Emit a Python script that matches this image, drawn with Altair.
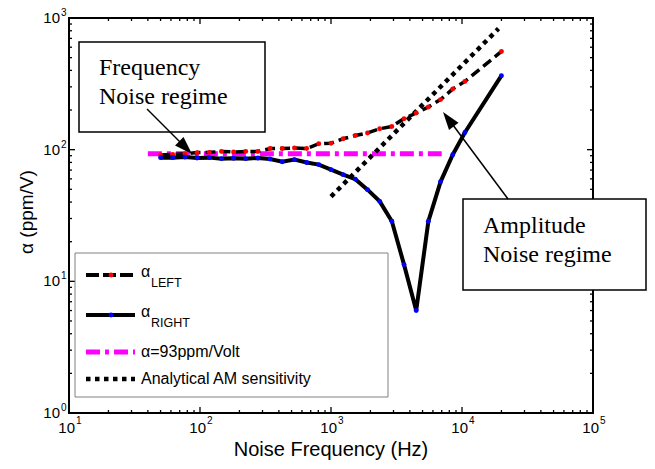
import altair as alt
import pandas as pd

# ---------------- data ----------------
freq = [50, 61.9, 76.7, 95.0, 117.7, 145.8, 180.4, 223.5, 276.8, 342.8, 424.6, 526,
        651.6, 807, 1000, 1238, 1534, 1900, 2353, 2914, 3610, 4471, 5538, 6859,
        8496, 10523, 20000]
alpha_left = [91, 92, 93, 95, 95.4, 97, 96, 97, 97, 102, 102, 103, 102, 111, 112,
              121, 128, 134, 144, 150, 172, 190, 211, 240, 289, 330, 557]
alpha_right = [87, 87, 88, 86.5, 87, 85.5, 86, 85.5, 86.5, 85, 81, 84, 80, 77, 70.5,
               64.6, 59.7, 49.7, 40.5, 28.6, 13.4, 6.0, 28.6, 57, 91.6, 135, 365]
flat_freq = [40, 7000]
flat_alpha = [93, 93]
am_freq = [1000, 19000]
am_alpha = [44, 830]

x_major = [10, 100, 1000, 10000, 100000]
x_major_exp = ["1", "2", "3", "4", "5"]
y_major = [1, 10, 100, 1000]
y_major_exp = ["0", "1", "2", "3"]
x_minor = [m * 10 ** k for k in range(1, 5) for m in range(2, 10)]
y_minor = [m * 10 ** k for k in range(0, 3) for m in range(2, 10)]

W, H = 524, 395
SANS = "Liberation Sans"
SERIF = "Liberation Serif"

xs = alt.Scale(type="log", domain=[10, 100000], nice=False)
ys = alt.Scale(type="log", domain=[1, 1000], nice=False)
X = lambda f: alt.X(f, scale=xs, axis=None)
Y = lambda f: alt.Y(f, scale=ys, axis=None)

one = pd.DataFrame({"d": [0]})
left_df = pd.DataFrame({"f": freq, "a": alpha_left})
right_df = pd.DataFrame({"f": freq, "a": alpha_right})
flat_df = pd.DataFrame({"f": flat_freq, "a": flat_alpha})
am_df = pd.DataFrame({"f": am_freq, "a": am_alpha})
xmaj_df = pd.DataFrame({"v": x_major, "e": x_major_exp})
ymaj_df = pd.DataFrame({"v": y_major, "e": y_major_exp})
xmin_df = pd.DataFrame({"v": x_minor})
ymin_df = pd.DataFrame({"v": y_minor})

layers = []

# ---------------- ticks (inward, all four sides) ----------------
for df, ln in ((xmaj_df, 6), (xmin_df, 3)):
    layers.append(alt.Chart(df).mark_rule(color="black", strokeWidth=1.3).encode(
        x=X("v:Q"), y=alt.value(H), y2=alt.value(H - ln)))
    layers.append(alt.Chart(df).mark_rule(color="black", strokeWidth=1.3).encode(
        x=X("v:Q"), y=alt.value(0), y2=alt.value(ln)))
for df, ln in ((ymaj_df, 6), (ymin_df, 3)):
    layers.append(alt.Chart(df).mark_rule(color="black", strokeWidth=1.3).encode(
        y=Y("v:Q"), x=alt.value(0), x2=alt.value(ln)))
    layers.append(alt.Chart(df).mark_rule(color="black", strokeWidth=1.3).encode(
        y=Y("v:Q"), x=alt.value(W), x2=alt.value(W - ln)))

# ---------------- tick labels ----------------
layers.append(alt.Chart(xmaj_df).mark_text(text="10", font=SANS, fontSize=15, align="right",
                                           baseline="alphabetic", dx=6, color="black").encode(
    x=X("v:Q"), y=alt.value(H + 20)))
layers.append(alt.Chart(xmaj_df).mark_text(font=SANS, fontSize=10, align="left",
                                           baseline="alphabetic", dx=7, color="black").encode(
    x=X("v:Q"), y=alt.value(H + 11), text="e:N"))
layers.append(alt.Chart(ymaj_df).mark_text(text="10", font=SANS, fontSize=15, align="right",
                                           baseline="middle", color="black").encode(
    y=Y("v:Q"), x=alt.value(-9)))
layers.append(alt.Chart(ymaj_df).mark_text(font=SANS, fontSize=10, align="left",
                                           baseline="middle", dy=-5, color="black").encode(
    y=Y("v:Q"), x=alt.value(-8), text="e:N"))


def txt(s, x, y, size, font=SANS, align="left", baseline="alphabetic", angle=0, color="black"):
    kw = dict(text=s, font=font, fontSize=size, align=align, baseline=baseline, color=color)
    if angle:
        kw["angle"] = angle
    return alt.Chart(one).mark_text(**kw).encode(x=alt.value(x), y=alt.value(y))


def rule(x1, y1, x2, y2, color="black", width=1.0, dash=None, cap="butt"):
    kw = dict(color=color, strokeWidth=width, strokeCap=cap)
    if dash:
        kw["strokeDash"] = dash
    return alt.Chart(one).mark_rule(**kw).encode(
        x=alt.value(x1), y=alt.value(y1), x2=alt.value(x2), y2=alt.value(y2))


def box(x1, y1, x2, y2, stroke="black", width=1.5):
    return alt.Chart(one).mark_rect(fill="white", stroke=stroke, strokeWidth=width).encode(
        x=alt.value(x1), y=alt.value(y1), x2=alt.value(x2), y2=alt.value(y2))


def dot(x, y, color):
    return alt.Chart(one).mark_circle(color=color, size=24, opacity=1).encode(
        x=alt.value(x), y=alt.value(y))


ARROW = "M0,0 L-0.33,1 L0.33,1 Z"


def head(x, y, angle):
    return alt.Chart(one).mark_point(shape=ARROW, filled=True, color="black", size=1296,
                                     angle=angle, opacity=1).encode(x=alt.value(x), y=alt.value(y))


# axis titles
layers.append(txt("Noise Frequency (Hz)", W / 2, H + 43, 20, align="center"))
layers.append(txt("\u03b1 (ppm/V)", -42, 194, 19, align="center", baseline="middle", angle=270))

# ---------------- data series ----------------
layers.append(alt.Chart(flat_df).mark_line(color="#ff00ff", strokeWidth=5,
                                           strokeDash=[14, 5, 4, 5]).encode(x=X("f:Q"), y=Y("a:Q")))
layers.append(alt.Chart(am_df).mark_line(color="black", strokeWidth=4.5,
                                         strokeDash=[4.5, 4.5]).encode(x=X("f:Q"), y=Y("a:Q")))
layers.append(alt.Chart(left_df).mark_line(color="black", strokeWidth=3.5,
                                           strokeDash=[10, 5]).encode(x=X("f:Q"), y=Y("a:Q")))
layers.append(alt.Chart(left_df).mark_circle(color="red", size=24, opacity=1).encode(
    x=X("f:Q"), y=Y("a:Q")))
layers.append(alt.Chart(right_df).mark_line(color="black", strokeWidth=4).encode(
    x=X("f:Q"), y=Y("a:Q")))
layers.append(alt.Chart(right_df).mark_circle(color="blue", size=24, opacity=1).encode(
    x=X("f:Q"), y=Y("a:Q")))

# ---------------- legend ----------------
layers.append(box(6, 235, 319, 379, stroke="#808080", width=1))
layers.append(rule(17, 257, 66, 257, width=4, dash=[13, 4]))
layers.append(dot(42, 257, "red"))
layers.append(txt("\u03b1", 72, 259, 16))
layers.append(txt("LEFT", 82, 269, 12.5))
layers.append(rule(17, 297, 66, 297, width=4))
layers.append(dot(42, 297, "blue"))
layers.append(txt("\u03b1", 72, 299, 16))
layers.append(txt("RIGHT", 82, 309, 12.5))
layers.append(rule(17, 334, 66, 334, color="#ff00ff", width=5, dash=[14, 5, 4, 5]))
layers.append(txt("\u03b1=93ppm/Volt", 72, 339, 16))
layers.append(rule(17, 361, 66, 361, width=4.5, dash=[4.5, 4.5]))
layers.append(txt("Analytical AM sensitivity", 72, 366, 16))

# ---------------- annotations ----------------
layers.append(box(10, 24, 196, 114))
layers.append(txt("Frequency", 30, 57, 24, font=SERIF))
layers.append(txt("Noise regime", 30, 86, 24, font=SERIF))
layers.append(rule(78, 91, 118, 131, width=1.5))
layers.append(head(123, 136, 135))

layers.append(box(394, 181, 577, 272))
layers.append(txt("Amplitude", 414, 215, 24, font=SERIF))
layers.append(txt("Noise regime", 414, 244, 24, font=SERIF))
layers.append(rule(439, 181, 378, 99, width=1.5))
layers.append(head(374, 94, 323.2))

chart = alt.layer(*layers).properties(
    width=W, height=H,
    autosize=alt.AutoSizeParams(type="none"),
    padding={"left": 61, "top": 10, "right": 54, "bottom": 48},
    background="white",
).configure_view(stroke="black", strokeWidth=2)

chart.save("out.html", embed_options={"renderer": "svg", "actions": False})
